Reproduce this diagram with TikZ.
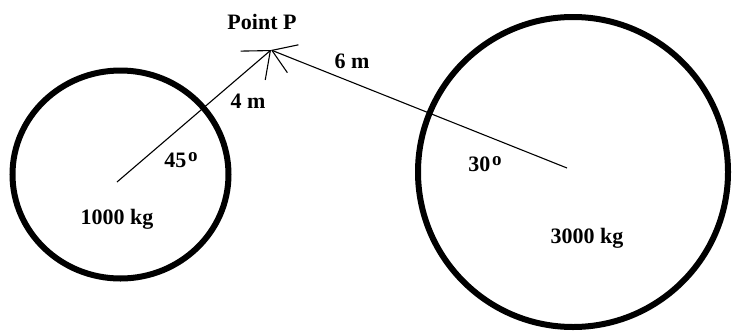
\documentclass[tikz,border=0pt]{standalone}
\usepackage{fontspec}
\setmainfont{Liberation Serif}
\usetikzlibrary{arrows.meta}
\newcommand{\degsup}{\kern0.8pt\raisebox{0.55ex}{\fontsize{9.5}{9.5}\selectfont o}}

\begin{document}
\begin{tikzpicture}[
  x=0.5pt, y=-0.5pt, line width=.5pt,
  mass/.style={draw=black, line width=3pt},
  ray/.style={draw=black, line width=.55pt},
  lab/.style={font=\fontsize{11}{13}\selectfont\bfseries, inner sep=1pt},
]
  % Frame of the picture, in pixel units of the reference.
  \useasboundingbox (0,0) rectangle (732,332);

  % The two masses.
  \draw[mass] (120.5,174.5) ellipse [x radius=108, y radius=104];
  \draw[mass] (573,172) circle [radius=155];

  % Centres and the field point.
  \coordinate (ca) at (117,182);
  \coordinate (cb) at (567,168);
  \coordinate (P) at (271,50);

  \draw[ray, -{Straight Barb[length=11.5pt, width=19pt]}] (ca) -- (P);
  \draw[ray, -{Straight Barb[length=11.3pt, width=15pt]}] (cb) -- (P);

  % Labels.
  \node[lab] (pp) at (262,22) {Point P};
  \node[lab] (da) at (248,101) {4 m};
  \node[lab] (db) at (352,61) {6 m};
  \node[lab] (aa) at (181,160) {45\degsup};
  \node[lab] (ab) at (485,164) {30\degsup};
  \node[lab] (ma) at (117,219) {1000 kg};
  \node[lab] (mb) at (587,238) {3000 kg};
\end{tikzpicture}
\end{document}
